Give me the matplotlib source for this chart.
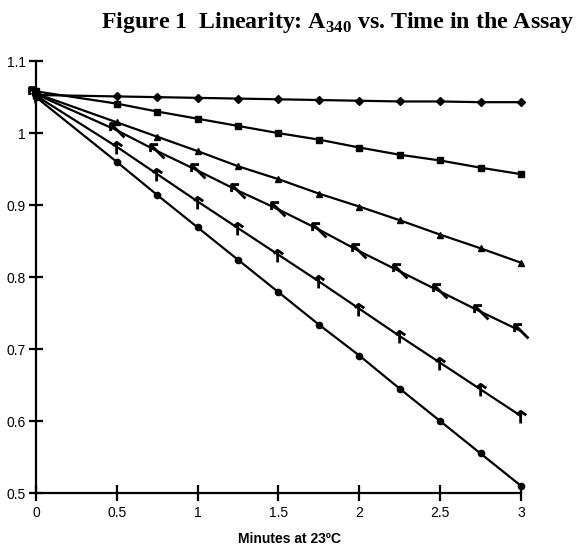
import matplotlib.pyplot as plt
from matplotlib.path import Path

plt.rcParams['mathtext.fontset'] = 'custom'
plt.rcParams['mathtext.bf'] = 'Liberation Serif:bold'
plt.rcParams['mathtext.rm'] = 'Liberation Serif:bold'

# minutes at 23 C
minutes = [0, 0.5, 0.75, 1, 1.25, 1.5, 1.75, 2, 2.25, 2.5, 2.75, 3]

# A340 readings, one list per sample
a340_diamond = [1.053, 1.051, 1.050, 1.049, 1.048, 1.047, 1.046, 1.045, 1.044, 1.044, 1.043, 1.043]
a340_square = [1.058, 1.041, 1.030, 1.020, 1.010, 1.000, 0.991, 0.980, 0.970, 0.962, 0.952, 0.943]
a340_triangle = [1.055, 1.015, 0.995, 0.975, 0.954, 0.936, 0.916, 0.898, 0.879, 0.859, 0.840, 0.820]
a340_arrow = [1.054, 1.004, 0.975, 0.948, 0.920, 0.894, 0.866, 0.836, 0.808, 0.780, 0.752, 0.725]
a340_uparrow = [1.052, 0.981, 0.943, 0.905, 0.868, 0.831, 0.794, 0.756, 0.718, 0.681, 0.644, 0.607]
a340_circle = [1.050, 0.960, 0.914, 0.869, 0.824, 0.779, 0.734, 0.691, 0.645, 0.600, 0.555, 0.510]

yticks = [0.5, 0.6, 0.7, 0.8, 0.9, 1, 1.1]
xticks = [0, 0.5, 1, 1.5, 2, 2.5, 3]

# odd arrow-like glyphs used for two of the series (open strokes, not filled)
arrow_marker = Path([(0.6, -0.6), (-0.6, 0.6), (0.05, 0.6), (-0.6, 0.6), (-0.6, -0.05)],
                    [Path.MOVETO, Path.LINETO, Path.MOVETO, Path.LINETO, Path.LINETO])
uparrow_marker = Path([(-0.1, -0.8), (-0.1, 0.6), (-0.55, 0.2), (-0.1, 0.6), (0.55, 0.15)],
                      [Path.MOVETO, Path.LINETO, Path.MOVETO, Path.LINETO, Path.LINETO])

fig = plt.figure(figsize=(5.78, 5.46), dpi=100)
ax = fig.add_axes([0.0623, 0.097, 0.839, 0.791])

style = dict(color='black', linewidth=1.6, clip_on=False)
ax.plot(minutes, a340_diamond, marker='D', markersize=4, **style)
ax.plot(minutes, a340_square, marker='s', markersize=4.5, **style)
ax.plot(minutes, a340_triangle, marker='^', markersize=5, **style)
ax.plot(minutes, a340_arrow, marker=arrow_marker, markersize=10, markeredgewidth=2,
        fillstyle='none', **style)
ax.plot(minutes, a340_uparrow, marker=uparrow_marker, markersize=10, markeredgewidth=2,
        fillstyle='none', **style)
ax.plot(minutes, a340_circle, marker='o', markersize=4.5, **style)

ax.set_xlim(0, 3)
ax.set_ylim(0.5, 1.1)
ax.set_xticks(xticks)
ax.set_xticklabels(['0', '0.5', '1', '1.5', '2', '2.5', '3'])
ax.set_yticks(yticks)
ax.set_yticklabels(['0.5', '0.6', '0.7', '0.8', '0.9', '1', '1.1'])

for side in ['top', 'right']:
    ax.spines[side].set_visible(False)
for side in ['left', 'bottom']:
    ax.spines[side].set_linewidth(1.6)

ax.tick_params(axis='y', direction='inout', length=9.5, width=1.6, pad=2.5,
               labelsize=10, labelfontfamily='Liberation Sans')
ax.tick_params(axis='x', direction='inout', length=11, width=1.6, pad=4,
               labelsize=10, labelfontfamily='Liberation Sans')

fig.text(0.5, 0.006, 'Minutes at 23ºC', ha='center', va='baseline',
         fontsize=10, fontweight='bold', family='Liberation Sans')
fig.text(0.585, 1 - 28 / 546, 'Figure 1  Linearity: A$_{\\mathbf{340}}$ vs. Time in the Assay',
         ha='center', va='baseline', fontsize=17.2, fontweight='bold', family='Liberation Serif')

fig.savefig('out.png', dpi=100)
